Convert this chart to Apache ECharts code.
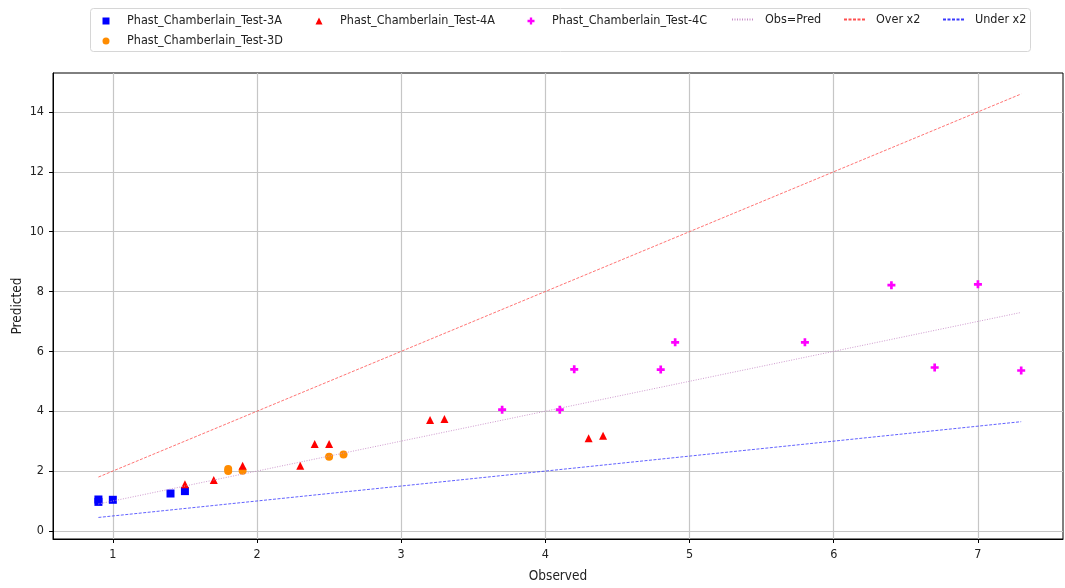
<!DOCTYPE html>
<html>
<head>
<meta charset="utf-8">
<script src="https://cdn.jsdelivr.net/npm/echarts@6/dist/echarts.min.js"></script>
<style>
html,body{margin:0;padding:0;background:#fff;}
#chart{width:1065px;height:588px;}
</style>
</head>
<body>
<div id="chart"></div>
<script>
// ---- data ----
const test3A_x = [0.9, 0.9, 1.0, 1.4, 1.5];
const test3A_y = [0.97, 1.05, 1.04, 1.25, 1.33];
const test3D_x = [1.8, 1.8, 1.9, 2.5, 2.6];
const test3D_y = [2.0, 2.07, 2.01, 2.48, 2.55];
const test4A_x = [1.5, 1.7, 1.9, 2.3, 2.4, 2.5, 3.2, 3.3, 4.3, 4.4];
const test4A_y = [1.56, 1.70, 2.18, 2.18, 2.90, 2.90, 3.71, 3.74, 3.10, 3.18];
const test4C_x = [3.7, 4.1, 4.2, 4.8, 4.9, 5.8, 6.4, 6.7, 7.0, 7.3];
const test4C_y = [4.05, 4.05, 5.40, 5.39, 6.30, 6.30, 8.21, 5.46, 8.24, 5.36];
const refX = [0.9, 7.3];
const obsPredY = [0.9, 7.3];
const overY = [1.8, 14.6];
const underY = [0.45, 3.65];
const xTicks = [1, 2, 3, 4, 5, 6, 7];
const yTicks = [0, 2, 4, 6, 8, 10, 12, 14];
const xRange = [0.585, 7.59];
const yRange = [-0.27, 15.3];

const FONT = "'DejaVu Sans Condensed', 'DejaVu Sans', sans-serif";
const zip = (xs, ys) => xs.map((x, i) => [x, ys[i]]);
const PLUS = 'path://M2,0H4V2H6V4H4V6H2V4H0V2H2Z';
const C_OBS = '#c88ec8', C_OVER = '#ff5050', C_UNDER = '#3a3aff';

const chart = echarts.init(document.getElementById('chart'), null, {renderer: 'canvas'});

function scatterLegend(name, icon, left, top) {
  return {
    data: [{name: name, icon: icon}], left: left, top: top, padding: 0,
    itemWidth: 7, itemHeight: 7, orient: 'horizontal',
    selectedMode: false, z: 10,
    textStyle: {fontFamily: FONT, fontSize: 12.5, color: '#222', padding: [0, 0, 0, 12.5]}
  };
}
function lineLegend(name, left, padLeft) {
  return {
    data: [name], left: left, top: 13, padding: 0,
    itemWidth: 22, itemHeight: 12, orient: 'horizontal',
    selectedMode: false, z: 10,
    itemStyle: {color: 'transparent', borderColor: 'transparent', borderWidth: 0, opacity: 0},
    textStyle: {fontFamily: FONT, fontSize: 12.5, color: '#222', padding: [0, 0, 0, padLeft]}
  };
}

const gridLineStyle = {color: '#c6c6c6', width: 1.2, type: 'solid'};

const option = {
  animation: false,
  backgroundColor: '#fff',
  graphic: [{
    type: 'rect', z: 1,
    shape: {x: 90.5, y: 8.5, width: 940, height: 43, r: 3},
    style: {fill: 'rgba(255,255,255,0.8)', stroke: '#d6d6d6', lineWidth: 1}
  }],
  legend: [
    scatterLegend('Phast_Chamberlain_Test-3A', 'rect', 102.5, 14.5),
    scatterLegend('Phast_Chamberlain_Test-3D', 'circle', 102.5, 34.5),
    scatterLegend('Phast_Chamberlain_Test-4A', 'triangle', 315.5, 14.5),
    scatterLegend('Phast_Chamberlain_Test-4C', PLUS, 527.5, 14.5),
    lineLegend('Obs=Pred', 731, 6),
    lineLegend('Over x2', 843, 5),
    lineLegend('Under x2', 942, 5)
  ],
  grid: {left: 53, right: 2, top: 73, bottom: 49, show: true, borderColor: '#000', borderWidth: 1,
         backgroundColor: '#fff', outerBoundsMode: 'none', containLabel: false},
  xAxis: {
    type: 'value', min: xRange[0], max: xRange[1],
    name: 'Observed', nameLocation: 'middle', nameGap: 30,
    nameTextStyle: {fontFamily: FONT, fontSize: 13.5, color: '#222'},
    axisLine: {show: true, onZero: false, lineStyle: {color: '#000', width: 1}},
    axisTick: {show: true, customValues: xTicks, length: 4, lineStyle: {color: '#000'}},
    axisLabel: {show: true, customValues: xTicks, margin: 9, fontFamily: FONT, fontSize: 12.5, color: '#222'},
    splitLine: {show: false}
  },
  yAxis: {
    type: 'value', min: yRange[0], max: yRange[1],
    name: 'Predicted', nameLocation: 'middle', nameGap: 29, nameRotate: 90, nameMoveOverlap: false,
    nameTextStyle: {fontFamily: FONT, fontSize: 13.5, color: '#222'},
    axisLine: {show: true, onZero: false, lineStyle: {color: '#000', width: 1}},
    axisTick: {show: true, customValues: yTicks, length: 4, lineStyle: {color: '#000'}},
    axisLabel: {show: true, customValues: yTicks, margin: 9, fontFamily: FONT, fontSize: 12.5, color: '#222'},
    splitLine: {show: false}
  },
  series: [
    {
      name: 'grid', type: 'line', data: [], z: 0, silent: true,
      markLine: {
        silent: true, symbol: 'none', label: {show: false}, animation: false, z: 0,
        lineStyle: gridLineStyle,
        data: xTicks.map(v => ({xAxis: v})).concat(yTicks.map(v => ({yAxis: v})))
      }
    },
    {
      name: 'Phast_Chamberlain_Test-3A', type: 'scatter', symbol: 'rect', symbolSize: 8,
      itemStyle: {color: '#0000ff', opacity: 1}, data: zip(test3A_x, test3A_y), z: 3
    },
    {
      name: 'Phast_Chamberlain_Test-3D', type: 'scatter', symbol: 'circle', symbolSize: 8,
      itemStyle: {color: '#ff8c00', opacity: 1}, data: zip(test3D_x, test3D_y), z: 3
    },
    {
      name: 'Phast_Chamberlain_Test-4A', type: 'scatter', symbol: 'triangle', symbolSize: 8,
      itemStyle: {color: '#ff0000', opacity: 1}, data: zip(test4A_x, test4A_y), z: 3
    },
    {
      name: 'Phast_Chamberlain_Test-4C', type: 'scatter', symbol: PLUS, symbolSize: 8,
      itemStyle: {color: '#ff00ff', opacity: 1}, data: zip(test4C_x, test4C_y), z: 3
    },
    {
      name: 'Obs=Pred', type: 'line', symbol: 'none', showSymbol: false, z: 4,
      lineStyle: {color: C_OBS, width: 0.9, type: [1, 1.5]},
      itemStyle: {color: C_OBS},
      data: zip(refX, obsPredY)
    },
    {
      name: 'Over x2', type: 'line', symbol: 'none', showSymbol: false, z: 4,
      lineStyle: {color: C_OVER, width: 0.8, type: [3, 1.5]},
      itemStyle: {color: C_OVER},
      data: zip(refX, overY)
    },
    {
      name: 'Under x2', type: 'line', symbol: 'none', showSymbol: false, z: 4,
      lineStyle: {color: C_UNDER, width: 0.8, type: [3, 1.5]},
      itemStyle: {color: C_UNDER},
      data: zip(refX, underY)
    }
  ]
};
chart.setOption(option);
</script>
</body>
</html>
